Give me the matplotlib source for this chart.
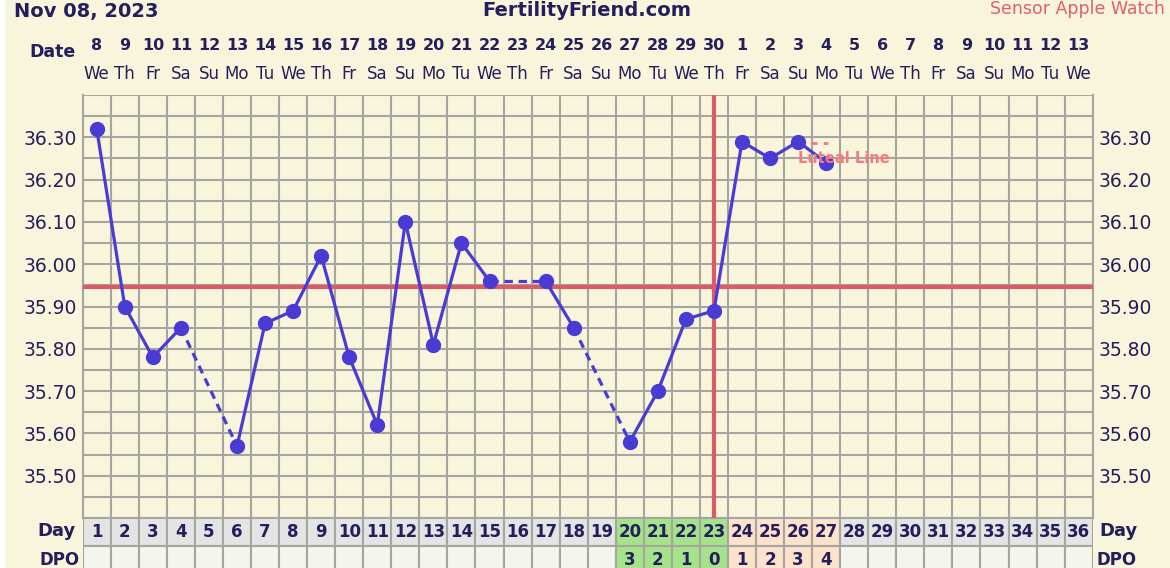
"""
FertilityFriend BBT chart — Nov 08, 2023 cycle
"""
import matplotlib
matplotlib.use("Agg")
import matplotlib.pyplot as plt
import matplotlib.transforms as mtransforms
import numpy as np

W, H = 1170, 568
BG = "#f8f5dc"
GRID = "#a6a6a0"
NAVY = "#241f5c"
LINE = "#4a3bd4"
RED = "#dc5a64"

plt.rcParams.update({
    "font.family": ["DejaVu Sans"],
    "text.color": NAVY,
})

# ── data ──
cycle_days = list(range(1, 37))
date_nums = [8, 9, 10, 11, 12, 13, 14, 15, 16, 17, 18, 19, 20, 21, 22, 23, 24, 25,
             26, 27, 28, 29, 30, 1, 2, 3, 4, 5, 6, 7, 8, 9, 10, 11, 12, 13]
weekdays = ["We", "Th", "Fr", "Sa", "Su", "Mo", "Tu"] * 5 + ["We"]

temp_days = [1, 2, 3, 4, 6, 7, 8, 9, 10, 11, 12, 13, 14, 15, 17, 18, 20, 21, 22, 23,
             24, 25, 26, 27]
temps = [36.32, 35.90, 35.78, 35.85, 35.57, 35.86, 35.89, 36.02, 35.78, 35.62, 36.10,
         35.81, 36.05, 35.96, 35.96, 35.85, 35.58, 35.70, 35.87, 35.89,
         36.29, 36.25, 36.29, 36.24]

coverline = 35.945
ovulation_day = 23
luteal_level = 36.287

dpo_days = [20, 21, 22, 23, 24, 25, 26, 27]
dpo_labels = ["3", "2", "1", "0", "1", "2", "3", "4"]
dpo_colors = ["#a6e28a"] * 4 + ["#fde2cc"] * 4

ytick_vals = [35.50, 35.60, 35.70, 35.80, 35.90, 36.00, 36.10, 36.20, 36.30]

fig = plt.figure(figsize=(W / 100, H / 100), dpi=100, facecolor=BG)
fig.patches.append(plt.Rectangle((0, 0), 4 / W, 1, transform=fig.transFigure,
                                 color="white", zorder=0))

x0, x1 = 82.7, 1092.7
ytop, ybot = 95, 518
ax = fig.add_axes([x0 / W, (H - ybot) / H, (x1 - x0) / W, (ybot - ytop) / H])
ax.set_facecolor(BG)
ax.set_xlim(0.5, 36.5)
ax.set_ylim(35.40, 36.40)

# grid
ax.set_xticks(np.arange(0.5, 37, 1))
ax.set_yticks(ytick_vals)
ax.set_yticklabels([f"{v:.2f}" for v in ytick_vals])
ax.set_yticks(np.arange(35.40, 36.41, 0.05), minor=True)
ax.tick_params(axis="both", which="both", length=0)
ax.tick_params(axis="x", labelbottom=False)
ax.tick_params(axis="y", labelsize=13.5, labelcolor=NAVY, labelright=True,
               left=False, right=False)
ax.yaxis.set_tick_params(pad=4)
ax.grid(True, which="both", color=GRID, lw=1.5)
ax.set_axisbelow(True)
for sp in ax.spines.values():
    sp.set_color(GRID)
    sp.set_linewidth(1.5)
ax.spines["top"].set_visible(False)

# coverline + ovulation line
ax.axhline(coverline, color=RED, lw=3, zorder=3)
ax.axvline(ovulation_day, color=RED, lw=3, zorder=3)

# temperature line: solid for consecutive days, dashed across gaps
for (d0, t0), (d1, t1) in zip(zip(temp_days, temps), zip(temp_days[1:], temps[1:])):
    if d1 - d0 == 1:
        ax.plot([d0, d1], [t0, t1], color=LINE, lw=2.3, zorder=4,
                solid_capstyle="round")
    else:
        ax.plot([d0, d1], [t0, t1], color=LINE, lw=2.3, zorder=4,
                dashes=(2.6, 1.8))
ax.plot(temp_days, temps, "o", color=LINE, markersize=10, zorder=5)

# luteal line
ax.plot([26.45, 27.05], [luteal_level, luteal_level], color="#f47a82", lw=2,
        dashes=(2.2, 2.2), zorder=4)
ax.text(25.98, 36.251, "Luteal Line", color="#f47a82", fontsize=10.5,
        fontweight="bold", ha="left", va="center", zorder=6)

# date header
hdr = mtransforms.blended_transform_factory(ax.transData, fig.transFigure)
for d, n, wd in zip(cycle_days, date_nums, weekdays):
    ax.text(d, 1 - 46 / H, str(n), transform=hdr, ha="center", va="center",
            fontsize=11.5, fontweight="bold", clip_on=False)
    ax.text(d, 1 - 74 / H, wd, transform=hdr, ha="center", va="center",
            fontsize=12, clip_on=False)
fig.text(76 / W, 1 - 52 / H, "Date", ha="right", va="center", fontsize=12.5,
         fontweight="bold")

fig.text(14 / W, 1 - 11 / H, "Nov 08, 2023", ha="left", va="center",
         fontsize=14, fontweight="bold")
fig.text(587 / W, 1 - 11 / H, "FertilityFriend.com", ha="center", va="center",
         fontsize=14, fontweight="bold")
fig.text(1165 / W, 1 - 9 / H, "Sensor Apple Watch", ha="right", va="center",
         fontsize=12.5, color="#e0606a")

# Day / DPO table
row_h = 28
tax = fig.add_axes([x0 / W, (H - ybot - 2 * row_h) / H, (x1 - x0) / W,
                    2 * row_h / H])
tax.set_xlim(0.5, 36.5)
tax.set_ylim(0, 2)
tax.axis("off")
day_colors = ["#e4e4e4"] * 36
dpo_row_colors = ["#f5f5ef"] * 36
for d, c in zip(dpo_days, dpo_colors):
    day_colors[d - 1] = c
    dpo_row_colors[d - 1] = c
tax.bar(cycle_days, 1, bottom=1, width=1, color=day_colors, edgecolor=GRID,
        linewidth=1.5)
tax.bar(cycle_days, 1, bottom=0, width=1, color=dpo_row_colors, edgecolor=GRID,
        linewidth=1.5)
for d in cycle_days:
    tax.text(d, 1.5, str(d), ha="center", va="center", fontsize=12,
             fontweight="bold")
for d, lab in zip(dpo_days, dpo_labels):
    tax.text(d, 0.5, lab, ha="center", va="center", fontsize=12,
             fontweight="bold")

fig.text(76 / W, 1 - 531 / H, "Day", ha="right", va="center", fontsize=13,
         fontweight="bold")
fig.text(80 / W, 1 - 560 / H, "DPO", ha="right", va="center", fontsize=12,
         fontweight="bold")
fig.text(1099 / W, 1 - 531 / H, "Day", ha="left", va="center", fontsize=13,
         fontweight="bold")
fig.text(1097 / W, 1 - 560 / H, "DPO", ha="left", va="center", fontsize=12,
         fontweight="bold")

fig.savefig("out.png", dpi=100, facecolor=BG)
